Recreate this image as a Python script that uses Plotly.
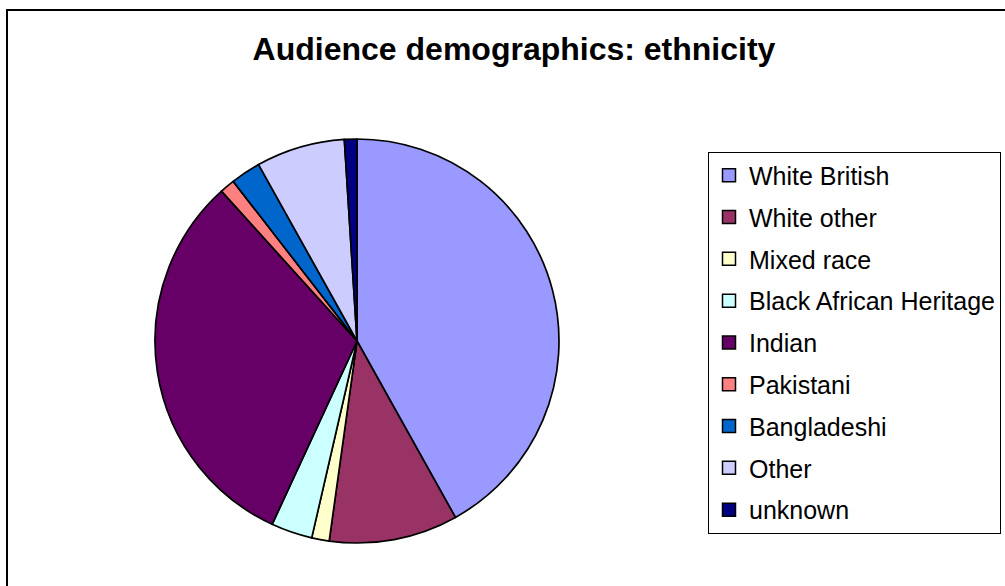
import plotly.graph_objects as go

labels = ["White British", "White other", "Mixed race", "Black African Heritage",
          "Indian", "Pakistani", "Bangladeshi", "Other", "unknown"]
values = [41.9, 10.3, 1.4, 3.3, 31.4, 1.2, 2.4, 7.1, 1.0]
colors = ["#9999FF", "#993366", "#FFFFCC", "#CCFFFF", "#660066",
          "#FF8080", "#0066CC", "#CCCCFF", "#000080"]

W, H = 1005, 586
fig = go.Figure()

fig.add_trace(go.Pie(
    labels=labels, values=values, sort=False, direction="clockwise", rotation=0,
    marker=dict(colors=colors, line=dict(color="black", width=1.7)),
    textinfo="none", showlegend=False,
    domain=dict(x=[155 / W, 559 / W], y=[1 - 543 / H, 1 - 139 / H]),
))

# legend entries (one group per label for Excel-like spacing)
for i, (lab, col) in enumerate(zip(labels, colors)):
    fig.add_trace(go.Scatter(
        x=[None], y=[None], mode="markers", name=lab, legendgroup=f"g{i}",
        marker=dict(symbol="square", size=13, color=col, line=dict(color="black", width=1.5)),
        hoverinfo="skip",
    ))

fig.update_layout(
    width=W, height=H, autosize=False,
    margin=dict(l=0, r=0, t=0, b=0),
    paper_bgcolor="white", plot_bgcolor="white",
    xaxis=dict(visible=False), yaxis=dict(visible=False),
    title=dict(text="<b>Audience demographics: ethnicity</b>",
               x=514 / W, xanchor="center", y=1 - 49 / H, yanchor="middle",
               yref="container", xref="container",
               font=dict(family="Liberation Sans, Arial, sans-serif", size=32, color="black")),
    legend=dict(x=708 / W, xanchor="left", y=1 - 151.5 / H, yanchor="top",
                bordercolor="black", borderwidth=1, bgcolor="white",
                font=dict(family="Liberation Sans, Arial, sans-serif", size=25, color="black"),
                itemwidth=30, tracegroupgap=6.3, traceorder="grouped",
                entrywidth=270, entrywidthmode="pixels"),
    shapes=[dict(type="rect", xref="paper", yref="paper",
                 x0=7 / W, x1=1.02, y0=-0.02, y1=1 - 10 / H,
                 line=dict(color="black", width=2), fillcolor="rgba(0,0,0,0)", layer="below")],
)

fig.write_html("out.html", config={"displayModeBar": False},
               post_script="document.body.style.margin='0';document.body.style.overflow='hidden';")
